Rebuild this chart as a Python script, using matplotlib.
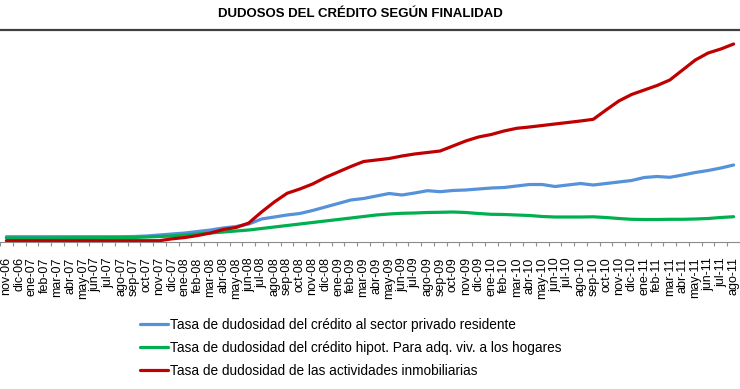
import matplotlib.pyplot as plt
import numpy as np

# month labels, nov-06 .. ago-11
months = ['nov-06', 'dic-06',
          'ene-07', 'feb-07', 'mar-07', 'abr-07', 'may-07', 'jun-07', 'jul-07', 'ago-07', 'sep-07', 'oct-07', 'nov-07', 'dic-07',
          'ene-08', 'feb-08', 'mar-08', 'abr-08', 'may-08', 'jun-08', 'jul-08', 'ago-08', 'sep-08', 'oct-08', 'nov-08', 'dic-08',
          'ene-09', 'feb-09', 'mar-09', 'abr-09', 'may-09', 'jun-09', 'jul-09', 'ago-09', 'sep-09', 'oct-09', 'nov-09', 'dic-09',
          'ene-10', 'feb-10', 'mar-10', 'abr-10', 'may-10', 'jun-10', 'jul-10', 'ago-10', 'sep-10', 'oct-10', 'nov-10', 'dic-10',
          'ene-11', 'feb-11', 'mar-11', 'abr-11', 'may-11', 'jun-11', 'jul-11', 'ago-11']

# tasas (%), estimadas del grafico
privado = [0.53, 0.53, 0.53, 0.53, 0.53, 0.53, 0.53, 0.53, 0.53, 0.53,
           0.55, 0.60, 0.70, 0.80, 0.90, 1.05, 1.20, 1.40, 1.55, 1.80,
           2.30, 2.50, 2.70, 2.85, 3.15, 3.50, 3.85, 4.20, 4.35, 4.60,
           4.85, 4.70, 4.90, 5.13, 5.03, 5.15, 5.20, 5.30, 5.40, 5.45,
           5.60, 5.75, 5.75, 5.55, 5.70, 5.85, 5.70, 5.85, 6.00, 6.15,
           6.45, 6.55, 6.47, 6.70, 6.95, 7.15, 7.40, 7.70]

hipot = [0.40, 0.40, 0.40, 0.40, 0.41, 0.42, 0.42, 0.43, 0.44, 0.45,
         0.45, 0.50, 0.55, 0.60, 0.70, 0.80, 0.90, 1.00, 1.10, 1.20,
         1.35, 1.50, 1.65, 1.80, 1.95, 2.10, 2.25, 2.40, 2.55, 2.70,
         2.80, 2.87, 2.90, 2.95, 2.97, 3.00, 2.95, 2.85, 2.77, 2.75,
         2.70, 2.65, 2.55, 2.50, 2.50, 2.50, 2.52, 2.45, 2.35, 2.27,
         2.25, 2.25, 2.27, 2.27, 2.30, 2.35, 2.45, 2.53]

inmob = [0.13, 0.13, 0.13, 0.13, 0.13, 0.13, 0.13, 0.13, 0.13, 0.13,
         0.13, 0.13, 0.13, 0.32, 0.45, 0.65, 0.90, 1.25, 1.45, 1.90,
         3.00, 4.00, 4.87, 5.30, 5.80, 6.45, 7.00, 7.55, 8.05, 8.20,
         8.35, 8.60, 8.80, 8.95, 9.10, 9.60, 10.10, 10.50, 10.75, 11.10,
         11.37, 11.50, 11.65, 11.80, 11.95, 12.10, 12.27, 13.20, 14.10, 14.75,
         15.20, 15.65, 16.20, 17.20, 18.20, 18.90, 19.30, 19.80]

labels = ['Tasa de dudosidad del crédito al sector privado residente',
          'Tasa de dudosidad del crédito hipot. Para adq. viv. a los hogares',
          'Tasa de dudosidad de las actividades inmobiliarias']
colors = ['#5592DA', '#00B050', '#C00000']

plt.rcParams['font.family'] = ['Liberation Sans', 'DejaVu Sans']

fig = plt.figure(figsize=(7.4, 3.89), dpi=100)
ax = fig.add_axes([0, 1 - 242 / 389, 1, 212 / 389])

x = np.arange(len(months))
lines = []
for serie, col, lab in zip([privado, hipot, inmob], colors, labels):
    l, = ax.plot(x, serie, color=col, lw=2.3, label=lab, solid_capstyle='round')
    lines.append(l)

ax.set_xlim(0.04, 57.18)
ax.set_ylim(0, 21.2)
ax.set_yticks([])

ax.set_xticks(x)
ax.set_xticklabels(months, rotation=90, fontsize=9)
ax.tick_params(axis='x', which='major', length=0, pad=11)
ax.set_xticks(np.arange(-0.5, 58, 1), minor=True)
ax.tick_params(axis='x', which='minor', length=3, color='#909090', width=0.8)

for s in ['left', 'right']:
    ax.spines[s].set_visible(False)
ax.spines['bottom'].set_color('#8c8c8c')
ax.spines['top'].set_color('#404040')
ax.spines['top'].set_linewidth(1.6)

fig.text(0.487, 1 - 14 / 389, 'DUDOSOS DEL CRÉDITO SEGÚN FINALIDAD',
         ha='center', va='center', fontsize=9.5, fontweight='bold')

fig.legend(handles=lines, loc='upper left', bbox_to_anchor=(128 / 740, 1 - 306 / 389),
           frameon=False, fontsize=9.8, handlelength=2.05, handletextpad=0.15,
           labelspacing=0.65)

fig.savefig('out.png', dpi=100)
